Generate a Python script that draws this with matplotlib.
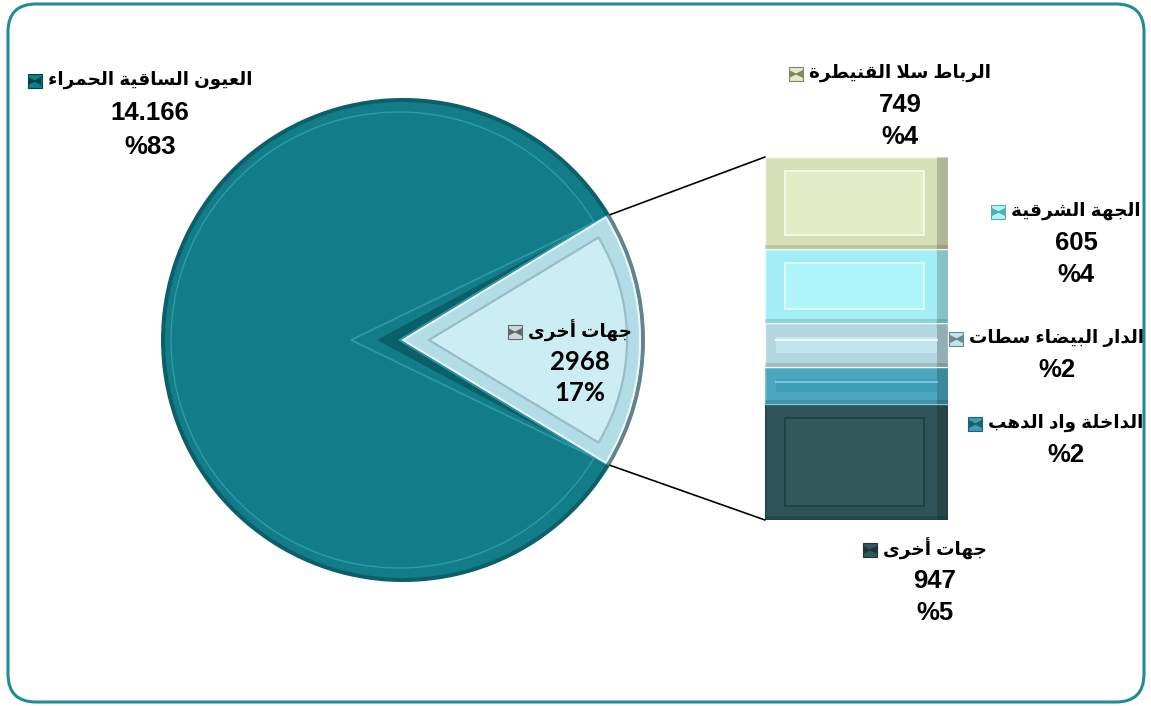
import matplotlib
matplotlib.use("Agg")
import matplotlib.pyplot as plt
from matplotlib.patches import FancyBboxPatch, Polygon, ConnectionPatch
import numpy as np

# ---- data
pie_labels = ["العيون الساقية الحمراء", "جهات أخرى"]
pie_values = [14166, 2968]
pie_value_text = ["14.166", "2968"]
pie_pct_text = ["%83", "17%"]

# bar of pie, bottom -> top
bar_labels = ["جهات أخرى", "الداخلة واد الدهب", "الدار البيضاء سطات",
              "الجهة الشرقية", "الرباط سلا القنيطرة"]
bar_values = [947, 307, 360, 605, 749]
bar_value_text = ["947", "", "", "605", "749"]
bar_pct_text = ["%5", "%2", "%2", "%4", "%4"]

# ---- tiny arabic shaper (matplotlib has no bidi / joining)
DUAL = "ئبتثجحخسشصضطظعغفقكلمنهي"
BASES = {'ء': 0xFE80, 'آ': 0xFE81, 'أ': 0xFE83, 'ؤ': 0xFE85, 'إ': 0xFE87, 'ئ': 0xFE89,
         'ا': 0xFE8D, 'ب': 0xFE8F, 'ة': 0xFE93, 'ت': 0xFE95, 'ث': 0xFE99, 'ج': 0xFE9D,
         'ح': 0xFEA1, 'خ': 0xFEA5, 'د': 0xFEA9, 'ذ': 0xFEAB, 'ر': 0xFEAD, 'ز': 0xFEAF,
         'س': 0xFEB1, 'ش': 0xFEB5, 'ص': 0xFEB9, 'ض': 0xFEBD, 'ط': 0xFEC1, 'ظ': 0xFEC5,
         'ع': 0xFEC9, 'غ': 0xFECD, 'ف': 0xFED1, 'ق': 0xFED5, 'ك': 0xFED9, 'ل': 0xFEDD,
         'م': 0xFEE1, 'ن': 0xFEE5, 'ه': 0xFEE9, 'و': 0xFEED, 'ى': 0xFEEF, 'ي': 0xFEF1}
LAM_ALEF = {'ا': 0xFEFB, 'أ': 0xFEF7, 'آ': 0xFEF5, 'إ': 0xFEF9}


def shape(s):
    chars, i = [], 0
    while i < len(s):
        if s[i] == 'ل' and i + 1 < len(s) and s[i + 1] in LAM_ALEF:
            chars.append(('LA', LAM_ALEF[s[i + 1]])); i += 2
        else:
            chars.append((s[i], None)); i += 1
    joins = lambda c: c[0] == 'LA' or (c[0] in BASES and c[0] != 'ء')
    dual = lambda c: c[0] in DUAL
    out = []
    for k, c in enumerate(chars):
        prev = k > 0 and dual(chars[k - 1]) and joins(c)
        if c[0] == 'LA':
            out.append(chr(c[1] + (1 if prev else 0))); continue
        if c[0] not in BASES:
            out.append(c[0]); continue
        nxt = dual(c) and k + 1 < len(chars) and joins(chars[k + 1])
        f = 3 if (prev and nxt) else 2 if nxt else 1 if prev else 0
        out.append(chr(BASES[c[0]] + f))
    return "".join(out)[::-1]


W, H = 1151, 706
fig = plt.figure(figsize=(W / 100, H / 100), dpi=100)
ax = fig.add_axes([0, 0, 1, 1])

FONT = ["Liberation Sans", "DejaVu Sans"]
FONT2 = ["Lato", "DejaVu Sans"]
FS_AR = 13.2
FS_NUM = 18.5

# ---- pie
cx, cy, R = 403, 340, 242
vals = [pie_values[1], pie_values[0]]
start = -180 * vals[0] / sum(vals)
half = np.radians(180 * vals[0] / sum(vals))

TEAL, TEAL_D, TEAL_L = "#127D88", "#0B5F69", "#2C9CA7"
SMALL_D, SMALL_B = "#66828A", "#B2DCE6"


def pie_layer(center, radius, colors, ec="none", lw=0, fill=True):
    w, _ = ax.pie(vals, colors=colors, startangle=start, center=center, radius=radius,
                  frame=True, wedgeprops=dict(edgecolor=ec, linewidth=lw, fill=fill))
    return w

w = pie_layer((cx, cy), R, [SMALL_D, TEAL_D])
w = pie_layer((cx, cy), R - 4, [SMALL_B, TEAL])
# notch shadow of the big slice next to the small one
rim_t = (cx + R * np.cos(half), cy - R * np.sin(half))
rim_b = (cx + R * np.cos(half), cy + R * np.sin(half))
ax.add_patch(Polygon([(cx - 52, cy), rim_t, (cx - 20, cy), rim_b], closed=True,
                     fc=TEAL, ec=TEAL_L, lw=1.2))
ax.add_patch(Polygon([(cx - 26, cy), rim_t, (cx, cy), rim_b], closed=True,
                     fc=TEAL_D, ec="none"))
w = pie_layer((cx - 4, cy), R - 14, ["none", "none"], ec=TEAL_L, lw=1.0, fill=False)
w[0].set_visible(False)
# small slice bevel
w = pie_layer((cx, cy), R - 5, [SMALL_B, "none"], ec="#E6F6FA", lw=1.5)
w[1].set_visible(False)
w = pie_layer((cx + 26, cy), R - 44, ["#CDEDF5", "none"], ec="#98BAC3", lw=1.5)
w[1].set_visible(False)

ax.set_xlim(0, W)
ax.set_ylim(H, 0)
ax.axis("off")

# ---- bar of pie
BX0, BX1, BY0, BY1 = 765, 948, 157, 520
bx = fig.add_axes([BX0 / W, (H - BY1) / H, (BX1 - BX0) / W, (BY1 - BY0) / H])
total = sum(bar_values)
bx.set_xlim(0, 1)
bx.set_ylim(0, total)
bx.axis("off")

bar_face = ["#34575C", "#3E9DB6", "#C2E4EC", "#AEF6FB", "#E2ECC7"]
bar_bevel = ["#30535A", "#4AA7BF", "#B3D6DF", "#A2EEF4", "#D6E0B8"]
bar_line = ["#22403F", "#7CCBDD", "#F4FBFD", "#E0FCFE", "#F6FAEA"]
px = total / (BY1 - BY0)
bottom = 0
for v, f, b, l in zip(bar_values, bar_face, bar_bevel, bar_line):
    bx.bar(0.5, v, bottom=bottom, width=1.0, color=b, edgecolor=l, linewidth=1.0)
    bx.bar(0.97, v, bottom=bottom, width=0.06, color="#000000", alpha=0.18, linewidth=0)
    bx.bar(0.5, 4 * px, bottom=bottom, width=1.0, color="#000000", alpha=0.12, linewidth=0)
    if v > 500:
        m = 14 * px
        bx.bar(0.49, v - 2 * m, bottom=bottom + m, width=0.76, color=f,
               edgecolor=l, linewidth=1.3)
    else:
        bx.bar(0.5, v * 0.35, bottom=bottom + v * 0.32, width=0.88, color=f, linewidth=0)
        bx.plot([0.06, 0.94], [bottom + v * 0.6] * 2, color=l, lw=1.4)
    bottom += v

for yb in (total, 0):
    ry = rim_t if yb == total else rim_b
    fig.add_artist(ConnectionPatch(xyA=ry, coordsA=ax.transData, xyB=(0, yb),
                                   coordsB=bx.transData, color="black", lw=1.2))

# ---- frame
ax.add_patch(FancyBboxPatch((8, 4), W - 15, H - 8, boxstyle="round,pad=0,rounding_size=28",
                            fill=False, ec="#1E8D97", lw=2.2, clip_on=False))

# ---- labels
fig.canvas.draw()
inv = ax.transData.inverted()


def key(x, y, color, dark):
    ax.plot(x, y, marker="s", ms=10, mfc=color, mec=dark, mew=0.8)
    ax.plot(x - 2.6, y, marker=">", ms=5.5, color=dark, mew=0)
    ax.plot(x + 2.6, y, marker="<", ms=5.5, color=dark, mew=0)


def label(xc, y, name, lines, color, dark, fam=FONT, fs=FS_NUM, dy=32):
    t = ax.text(xc, y, shape(name), ha="center", va="center", fontsize=FS_AR,
                fontweight="bold", family=FONT)
    bb = t.get_window_extent(renderer=fig.canvas.get_renderer())
    x0 = inv.transform((bb.x0, bb.y0))[0]
    key(x0 - 13, y + 1, color, dark)
    for i, s in enumerate(lines):
        if s:
            ax.text(xc, y + dy * (i + 1), s, ha="center", va="center", fontsize=fs,
                    fontweight="bold", family=fam)


label(150, 80, pie_labels[0], [pie_value_text[0], pie_pct_text[0]], "#127D88", "#063F45",
      dy=33.5)
label(580, 331, pie_labels[1], [pie_value_text[1], pie_pct_text[1]], "#D0D8DA", "#5C6B70",
      fam=FONT2, fs=18.5, dy=31)

bar_pos = [(935, 549), (1066, 423), (1057, 338), (1076, 211), (900, 73)]
key_dark = ["#1E3438", "#1F5F70", "#6F878E", "#5CA9B3", "#7E8662"]
for (x, y), name, vt, pt, f, d in zip(bar_pos, bar_labels, bar_value_text, bar_pct_text,
                                      bar_face, key_dark):
    lines = [vt, pt] if vt else [pt]
    label(x, y, name, lines, f, d)

fig.savefig("out.png", dpi=100)
